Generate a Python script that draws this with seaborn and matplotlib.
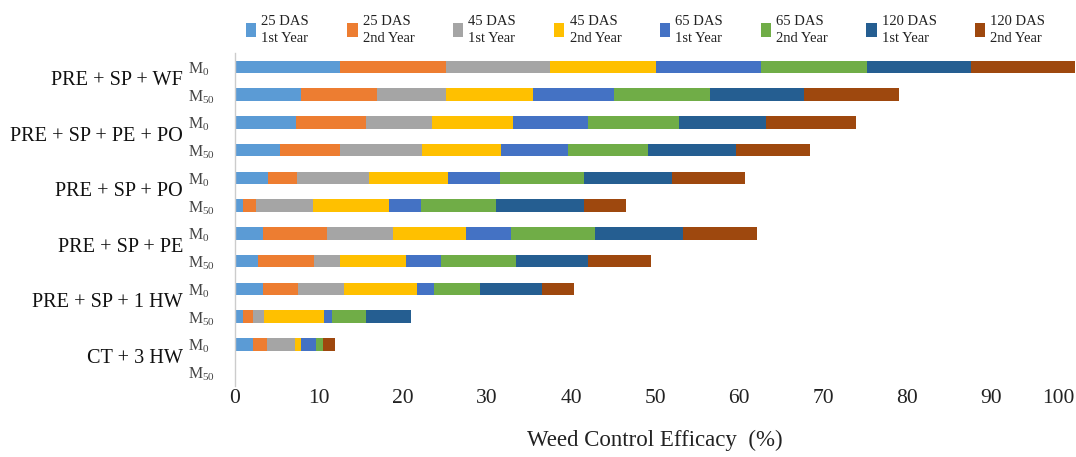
import numpy as np
import pandas as pd
import matplotlib
matplotlib.use("Agg")
import matplotlib.pyplot as plt
import matplotlib.transforms as mtransforms
from matplotlib.patches import Patch
import seaborn as sns

# ---------------- data ----------------
treatments = ["PRE + SP + WF", "PRE + SP + PE + PO", "PRE + SP + PO",
              "PRE + SP + PE", "PRE + SP + 1 HW", "CT + 3 HW"]
levels = ["M0", "M50"]
level_labels = [r"M$_{0}$", r"M$_{50}$"]

series_names = ["25 DAS\n1st Year", "25 DAS\n2nd Year", "45 DAS\n1st Year", "45 DAS\n2nd Year",
                "65 DAS\n1st Year", "65 DAS\n2nd Year", "120 DAS\n1st Year", "120 DAS\n2nd Year"]

# rows: treatment x (M0, M50), in display order top to bottom
das25_y1  = [12.5, 7.8, 7.3, 5.4, 3.9, 0.9, 3.3, 2.7, 3.3, 1.0, 2.2, 0.0]
das25_y2  = [12.6, 9.1, 8.3, 7.1, 3.5, 1.6, 7.6, 6.7, 4.2, 1.1, 1.6, 0.0]
das45_y1  = [12.4, 8.2, 7.8, 9.8, 8.6, 6.8, 7.9, 3.1, 5.5, 1.4, 3.4, 0.0]
das45_y2  = [12.6, 10.4, 9.7, 9.4, 9.3, 9.0, 8.7, 7.8, 8.7, 7.1, 0.7, 0.0]
das65_y1  = [12.5, 9.6, 8.9, 7.9, 6.2, 3.8, 5.3, 4.2, 2.0, 1.0, 1.8, 0.0]
das65_y2  = [12.6, 11.4, 10.8, 9.6, 10.1, 9.0, 10.1, 9.0, 5.5, 4.0, 0.8, 0.0]
das120_y1 = [12.4, 11.2, 10.4, 10.4, 10.4, 10.4, 10.4, 8.5, 7.3, 5.3, 0.0, 0.0]
das120_y2 = [12.4, 11.3, 10.7, 8.8, 8.7, 5.1, 8.8, 7.5, 3.8, 0.0, 1.4, 0.0]

colors = ["#5B9BD5", "#ED7D31", "#A5A5A5", "#FFC000",
          "#4472C4", "#70AD47", "#255E91", "#9E480E"]

x_ticks = [0, 10, 20, 30, 40, 50, 60, 70, 80, 90, 100]
x_label = "Weed Control Efficacy  (%)"

# ---------------- build table ----------------
row_ids = [f"{t}|{m}" for t in treatments for m in levels]
values = np.array([das25_y1, das25_y2, das45_y1, das45_y2,
                   das65_y1, das65_y2, das120_y1, das120_y2])
cum = np.cumsum(values, axis=0)
df = pd.DataFrame({"row": row_ids})
for i in range(len(series_names)):
    df[f"c{i}"] = cum[i]

# ---------------- style ----------------
sns.set_theme(style="white")
plt.rcParams["font.family"] = ["Liberation Serif", "DejaVu Serif"]
plt.rcParams["mathtext.fontset"] = "custom"
plt.rcParams["mathtext.rm"] = "Liberation Serif"
plt.rcParams["mathtext.it"] = "Liberation Serif"

fig = plt.figure(figsize=(10.76, 4.57), dpi=100)
ax = fig.add_axes([235 / 1076, 1 - 386 / 457, 840 / 1076, (386 - 53) / 457])

# stacked bars: draw cumulative totals from the outermost inward
for i in reversed(range(len(series_names))):
    sns.barplot(data=df, y="row", x=f"c{i}", order=row_ids, orient="h",
                color=colors[i], width=0.45, saturation=1, linewidth=0,
                errorbar=None, ax=ax)

ax.set_xlim(0, 100)
ax.set_ylim(len(row_ids) - 0.5, -0.5)
ax.set_xticks(x_ticks)
xt = ax.set_xticklabels([str(v) for v in x_ticks], fontsize=15.5, color="#222222")
xt[-1].set_ha("right")
xt[-1].set_x(100)
ax.tick_params(axis="x", length=0, pad=2)
ax.set_xlabel(x_label, fontsize=16.5, labelpad=16, color="#222222")
ax.set_ylabel("")

ax.set_yticks(range(len(row_ids)))
ax.set_yticklabels(level_labels * len(treatments), fontsize=11.5, color="#444444", ha="left")
ax.tick_params(axis="y", length=0, pad=34)

for s in ["top", "right", "bottom"]:
    ax.spines[s].set_visible(False)
ax.spines["left"].set_color("#cccccc")
ax.spines["left"].set_linewidth(1.0)

# treatment group labels
trans = mtransforms.blended_transform_factory(ax.transAxes, ax.transData)
for g, t in enumerate(treatments):
    ax.text(-52 / 840, 2 * g + 0.5, t, transform=trans, ha="right", va="center",
            fontsize=14.6, color="#111111")

# legend
handles = [Patch(facecolor=c, edgecolor="none") for c in colors]
leg = fig.legend(handles, series_names, loc="upper left", bbox_to_anchor=(246 / 1076, 1 - 15 / 457),
                 ncol=8, frameon=False, fontsize=10.5, handlelength=0.7, handleheight=1.1,
                 handletextpad=0.35, columnspacing=2.63, borderpad=0, borderaxespad=0,
                 labelspacing=0)
for txt in leg.get_texts():
    txt.set_linespacing(1.4)
    txt.set_color("#222222")

fig.savefig("out.png", dpi=100)
